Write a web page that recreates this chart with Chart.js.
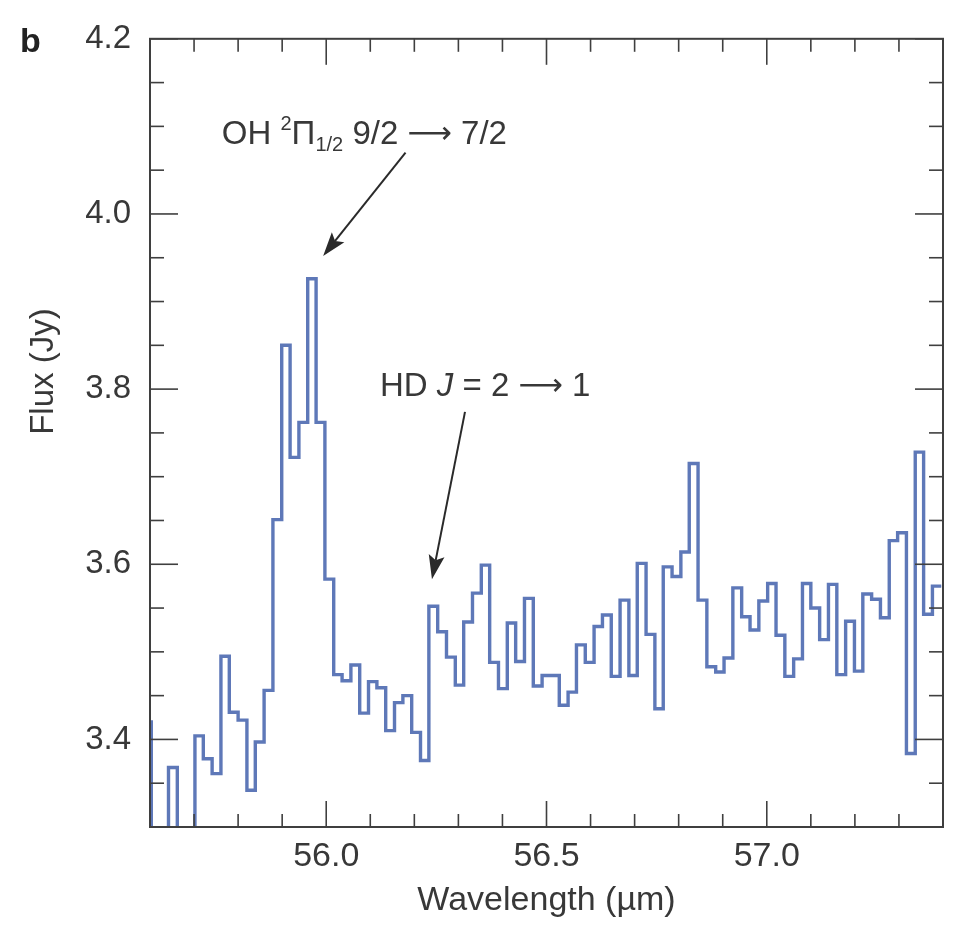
<!DOCTYPE html>
<html>
<head>
<meta charset="utf-8">
<script src="https://cdn.jsdelivr.net/npm/chart.js@4.4.1/dist/chart.umd.min.js"></script>
<style>
  html, body { margin: 0; padding: 0; background: #fff; }
</style>
</head>
<body>
<canvas id="specChart" width="958" height="926"></canvas>
<script>
// left edge of every bin (µm); the last entry closes the final bin
const wavelength = [
  55.583, 55.603, 55.623, 55.642, 55.662, 55.682, 55.702, 55.721, 55.741, 55.761,
  55.780, 55.800, 55.820, 55.839, 55.859, 55.879, 55.899, 55.918, 55.938, 55.958,
  55.977, 55.997, 56.017, 56.036, 56.056, 56.076, 56.096, 56.115, 56.135, 56.155,
  56.174, 56.194, 56.214, 56.233, 56.253, 56.273, 56.293, 56.312, 56.332, 56.352,
  56.371, 56.391, 56.411, 56.430, 56.450, 56.470, 56.490, 56.509, 56.529, 56.549,
  56.568, 56.588, 56.608, 56.627, 56.647, 56.667, 56.687, 56.706, 56.726, 56.746,
  56.765, 56.785, 56.805, 56.824, 56.844, 56.864, 56.884, 56.903, 56.923, 56.943,
  56.962, 56.982, 57.002, 57.021, 57.041, 57.061, 57.081, 57.100, 57.120, 57.140,
  57.159, 57.179, 57.199, 57.218, 57.238, 57.258, 57.278, 57.297, 57.317, 57.337,
  57.356, 57.376, 57.396
];
// flux per bin (Jy)
const flux = [
  3.420, 3.250, 3.250, 3.368, 3.250, 3.250, 3.404, 3.378, 3.361, 3.495,
  3.431, 3.422, 3.342, 3.397, 3.456, 3.651, 3.850, 3.722, 3.762, 3.926,
  3.762, 3.583, 3.474, 3.467, 3.485, 3.430, 3.466, 3.459, 3.410, 3.442,
  3.450, 3.408, 3.376, 3.552, 3.523, 3.494, 3.462, 3.534, 3.567, 3.599,
  3.488, 3.458, 3.533, 3.489, 3.561, 3.461, 3.473, 3.473, 3.439, 3.454,
  3.508, 3.488, 3.529, 3.542, 3.472, 3.559, 3.473, 3.601, 3.520, 3.435,
  3.597, 3.586, 3.614, 3.715, 3.559, 3.483, 3.477, 3.493, 3.573, 3.540,
  3.525, 3.558, 3.578, 3.519, 3.472, 3.492, 3.578, 3.550, 3.514, 3.577,
  3.474, 3.535, 3.478, 3.566, 3.560, 3.539, 3.627, 3.636, 3.384, 3.728,
  3.543, 3.575, 3.575
];

const xTicks = [56.0, 56.5, 57.0];
const xMinor = [55.7, 55.8, 55.9, 56.1, 56.2, 56.3, 56.4, 56.6, 56.7, 56.8, 56.9, 57.1, 57.2, 57.3];
const yTicks = [3.4, 3.6, 3.8, 4.0, 4.2];
const yMinor = [3.35, 3.45, 3.5, 3.55, 3.65, 3.7, 3.75, 3.85, 3.9, 3.95, 4.05, 4.1, 4.15];

const FONT = '"Liberation Sans", Arial, Helvetica, sans-serif';
const ARROWFONT = '"DejaVu Sans", sans-serif';
const TXT = '#383838';
const AXIS = '#3f3f3f';

const points = wavelength.map((w, i) => ({ x: w, y: flux[i] }));

// frame, inward ticks, y title, panel letter and the two line labels
const decor = {
  id: 'decor',
  afterDatasetsDraw(chart) {
    const { ctx, chartArea: a, scales: { x, y } } = chart;
    ctx.save();
    ctx.strokeStyle = AXIS;
    ctx.lineWidth = 2;
    ctx.strokeRect(a.left, a.top, a.right - a.left, a.bottom - a.top);

    function seg(x1, y1, x2, y2) {
      ctx.beginPath(); ctx.moveTo(x1, y1); ctx.lineTo(x2, y2); ctx.stroke();
    }
    function xt(v, len) {
      const p = x.getPixelForValue(v);
      seg(p, a.bottom, p, a.bottom - len);
      seg(p, a.top, p, a.top + len);
    }
    function yt(v, len) {
      const p = y.getPixelForValue(v);
      seg(a.left, p, a.left + len, p);
      seg(a.right, p, a.right - len, p);
    }
    ctx.lineWidth = 1.6;
    xTicks.forEach(v => xt(v, 26));
    xMinor.forEach(v => xt(v, 13));
    yTicks.forEach(v => yt(v, 28));
    yMinor.forEach(v => yt(v, 14));

    ctx.fillStyle = '#222';
    ctx.font = 'bold 34px ' + FONT;
    ctx.textBaseline = 'alphabetic';
    ctx.fillText('b', 20, 52);

    // y axis title
    ctx.save();
    ctx.translate(44, y.getPixelForValue(3.82));
    ctx.rotate(-Math.PI / 2);
    ctx.fillStyle = TXT;
    ctx.font = '33px ' + FONT;
    ctx.textAlign = 'center';
    ctx.textBaseline = 'middle';
    ctx.fillText('Flux (Jy)', 0, 0);
    ctx.restore();

    function arrow(w1, f1, w2, f2) {
      const x1 = x.getPixelForValue(w1), y1 = y.getPixelForValue(f1);
      const x2 = x.getPixelForValue(w2), y2 = y.getPixelForValue(f2);
      const ang = Math.atan2(y2 - y1, x2 - x1);
      const c = Math.cos(ang), s = Math.sin(ang);
      const hl = 24, hw = 8;
      ctx.strokeStyle = '#2a2a2a';
      ctx.lineWidth = 2;
      seg(x1, y1, x2 - c * hl * 0.8, y2 - s * hl * 0.8);
      ctx.fillStyle = '#2a2a2a';
      ctx.beginPath();
      ctx.moveTo(x2, y2);
      ctx.lineTo(x2 - c * hl - s * hw, y2 - s * hl + c * hw);
      ctx.lineTo(x2 - c * hl * 0.8, y2 - s * hl * 0.8);
      ctx.lineTo(x2 - c * hl + s * hw, y2 - s * hl - c * hw);
      ctx.closePath();
      ctx.fill();
    }
    arrow(56.18, 4.07, 55.993, 3.952);
    arrow(56.315, 3.774, 56.24, 3.583);

    // labels made of pieces: [text, size factor, baseline shift, style, family]
    function label(w, f, size, parts) {
      let px = x.getPixelForValue(w);
      const py = y.getPixelForValue(f);
      ctx.fillStyle = TXT;
      parts.forEach(([t, k, dy, st, fam]) => {
        ctx.font = (st || '') + ' ' + Math.round(size * k) + 'px ' + (fam || FONT);
        ctx.fillText(t, px, py + dy);
        px += ctx.measureText(t).width;
      });
    }
    label(55.763, 4.08, 33, [
      ['OH ', 1, 0], ['2', 0.62, -14], ['\u03A0', 1, 0], ['1/2', 0.62, 7], [' 9/2 ', 1, 0],
      ['\u27F6', 0.95, -1, '', ARROWFONT], [' 7/2', 1, 0]
    ]);
    label(56.122, 3.792, 33, [
      ['HD ', 1, 0], ['J', 1, 0, 'italic'], [' = 2 ', 1, 0],
      ['\u27F6', 0.95, -1, '', ARROWFONT], [' 1', 1, 0]
    ]);
    ctx.restore();
  }
};

new Chart(document.getElementById('specChart'), {
  type: 'line',
  data: {
    datasets: [
      { data: points, borderColor: '#5e78b8', borderWidth: 3.4, stepped: 'before',
        pointRadius: 0, fill: false, borderJoinStyle: 'miter', borderCapStyle: 'butt' },
      { data: points, borderColor: '#a6bdec', borderWidth: 1.1, stepped: 'before',
        pointRadius: 0, fill: false, borderJoinStyle: 'miter', borderCapStyle: 'butt' }
    ]
  },
  options: {
    responsive: false,
    animation: false,
    devicePixelRatio: 1,
    layout: { padding: { top: 35, right: 15, left: 0, bottom: 0 } },
    plugins: { legend: { display: false }, tooltip: { enabled: false } },
    scales: {
      x: {
        type: 'linear',
        min: 55.6,
        max: 57.4,
        afterBuildTicks: s => { s.ticks = xTicks.map(v => ({ value: v })); },
        afterFit: s => { s.height = 99; },
        grid: { display: false, drawTicks: false },
        border: { display: false },
        ticks: {
          autoSkip: false, maxRotation: 0, padding: 9, color: TXT,
          font: { family: FONT, size: 34 },
          callback: v => v.toFixed(1)
        },
        title: {
          display: true, text: 'Wavelength (\u00B5m)', color: TXT,
          font: { family: FONT, size: 34 }, padding: { top: 0, bottom: 5 }
        }
      },
      y: {
        min: 3.3,
        max: 4.2,
        afterBuildTicks: s => { s.ticks = yTicks.map(v => ({ value: v })); },
        afterFit: s => { s.width = 150; },
        grid: { display: false, drawTicks: false },
        border: { display: false },
        ticks: {
          autoSkip: false, padding: 19, color: TXT,
          font: { family: FONT, size: 33 },
          callback: v => v.toFixed(1)
        }
      }
    }
  },
  plugins: [decor]
});
</script>
</body>
</html>
